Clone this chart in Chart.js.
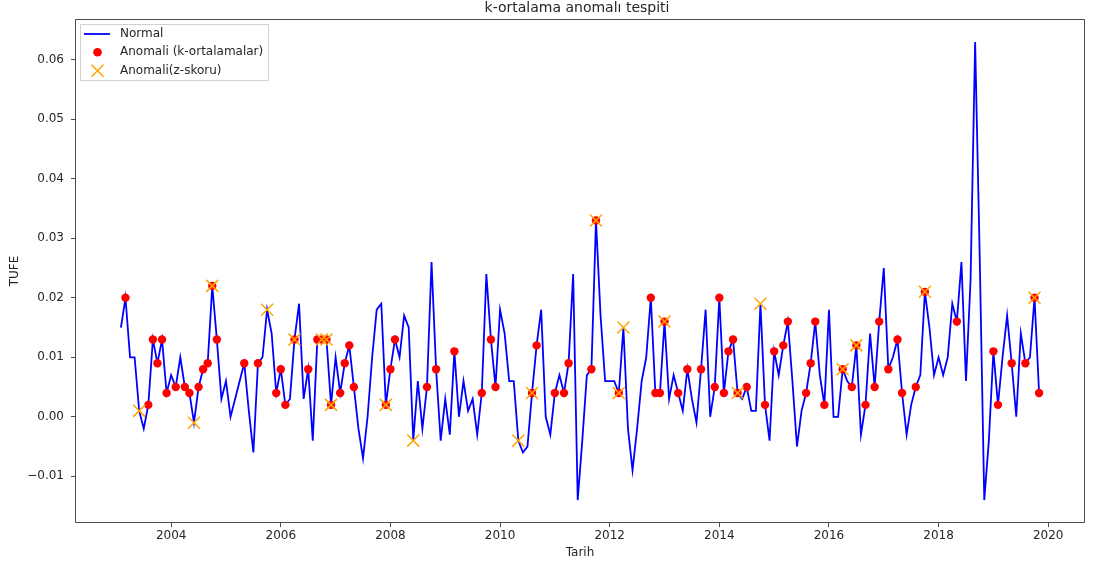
<!DOCTYPE html>
<html>
<head>
<meta charset="utf-8">
<script src="https://cdn.jsdelivr.net/npm/chart.js@4.4.1/dist/chart.umd.min.js"></script>
<style>
  html, body { margin: 0; padding: 0; background: #fff; }
  #wrap { width: 1095px; height: 566px; }
</style>
</head>
<body>
<div id="wrap"><canvas id="c" width="1095" height="566"></canvas></div>
<script>
// Monthly TUFE change, one value per month starting from firstMonth
const firstMonth = { year: 2003, month: 1 };
const tufe = [
  0.015, 0.020, 0.010, 0.010, 0.001, -0.002, 0.002, 0.013, 0.009, 0.013, 0.004, 0.007,
  0.005, 0.010, 0.005, 0.004, -0.001, 0.005, 0.008, 0.009, 0.022, 0.013, 0.003, 0.006,
  0.000, 0.003, 0.006, 0.009, 0.001, -0.006, 0.009, 0.010, 0.018, 0.014, 0.004, 0.008,
  0.002, 0.003, 0.013, 0.019, 0.003, 0.008, -0.004, 0.013, 0.013, 0.013, 0.002, 0.010,
  0.004, 0.009, 0.012, 0.005, -0.002, -0.007, 0.000, 0.010, 0.018, 0.019, 0.002, 0.008,
  0.013, 0.010, 0.017, 0.015, -0.004, 0.006, -0.002, 0.005, 0.026, 0.008, -0.004, 0.003,
  -0.003, 0.011, 0.000, 0.006, 0.001, 0.003, -0.003, 0.004, 0.024, 0.013, 0.005, 0.018,
  0.014, 0.006, 0.006, -0.004, -0.006, -0.005, 0.004, 0.012, 0.018, 0.000, -0.003, 0.004,
  0.007, 0.004, 0.009, 0.024, -0.014, -0.004, 0.007, 0.008, 0.033, 0.017, 0.006, 0.006,
  0.006, 0.004, 0.015, -0.002, -0.009, -0.002, 0.006, 0.010, 0.020, 0.004, 0.004, 0.016,
  0.003, 0.007, 0.004, 0.001, 0.008, 0.003, -0.001, 0.008, 0.018, 0.000, 0.005, 0.020,
  0.004, 0.011, 0.013, 0.004, 0.003, 0.005, 0.001, 0.001, 0.019, 0.002, -0.004, 0.011,
  0.007, 0.012, 0.016, 0.006, -0.005, 0.001, 0.004, 0.009, 0.016, 0.007, 0.002, 0.018,
  0.000, 0.000, 0.008, 0.006, 0.005, 0.012, -0.003, 0.002, 0.014, 0.005, 0.016, 0.025,
  0.008, 0.010, 0.013, 0.004, -0.003, 0.002, 0.005, 0.007, 0.021, 0.015, 0.007, 0.010,
  0.007, 0.010, 0.019, 0.016, 0.026, 0.006, 0.023, 0.063, 0.027, -0.014, -0.004, 0.011,
  0.002, 0.010, 0.017, 0.009, 0.000, 0.014, 0.009, 0.010, 0.020, 0.004
];

// Positions (into tufe) flagged by each detector
const kmeansAnomalyIdx = [
  1, 6, 7, 8, 9, 10, 12, 14, 15, 17, 18, 19, 20, 21, 27, 30, 34, 35, 36, 38, 41,
  43, 44, 45, 46, 48, 49, 50, 51, 58, 59, 60, 67, 69, 73, 79, 81, 82, 90, 91, 95,
  97, 98, 103, 104, 109, 116, 117, 118, 119, 122, 124, 127, 130, 131, 132, 133,
  134, 135, 137, 141, 143, 145, 146, 150, 151, 152, 154, 158, 160, 161, 163, 165,
  166, 168, 170, 171, 174, 176, 183, 191, 192, 195, 198, 200, 201
];
const zscoreAnomalyIdx = [
  4, 16, 20, 32, 38, 44, 45, 46, 58, 64, 87, 90, 104, 109, 110, 119, 135, 140,
  158, 161, 176, 200
];

const xTickYears = [2004, 2006, 2008, 2010, 2012, 2014, 2016, 2018, 2020];
const yTickValues = [-0.01, 0.00, 0.01, 0.02, 0.03, 0.04, 0.05, 0.06];

const titleText = 'k-ortalama anomalı tespiti';
const xTitle = 'Tarih';
const yTitle = 'TUFE';
const legendLabels = ['Normal', 'Anomali (k-ortalamalar)', 'Anomali(z-skoru)'];

const FONT = '"DejaVu Sans", "Liberation Sans", sans-serif';
const LINE_BLUE = '#0000ff';
const DOT_RED = '#ff0000';
const X_ORANGE = '#ffa500';
const TEXT = '#262626';
const SPINE = '#4d4d4d';

// decimal-year position of each month (month end)
const monthPos = tufe.map((_, i) => {
  const m = firstMonth.month - 1 + i;
  return firstMonth.year + Math.floor(m / 12) + ((m % 12) + 1) / 12;
});

const linePts = tufe.map((v, i) => ({ x: monthPos[i], y: v }));
const kmPts = kmeansAnomalyIdx.map(i => ({ x: monthPos[i], y: tufe[i] }));
const zPts = zscoreAnomalyIdx.map(i => ({ x: monthPos[i], y: tufe[i] }));

// 5% autoscale margins on both axes
const xLo = monthPos[0], xHi = monthPos[monthPos.length - 1];
const yLo = Math.min(...tufe), yHi = Math.max(...tufe);
const xPad = (xHi - xLo) * 0.05, yPad = (yHi - yLo) * 0.05;

const frameAndText = {
  id: 'frameAndText',
  afterDraw(chart) {
    const ctx = chart.ctx;
    const a = chart.chartArea;
    const L = Math.round(a.left) + 0.5, R = Math.round(a.right) - 0.5;
    const T = Math.round(a.top) + 0.5, B = Math.round(a.bottom) - 0.5;
    ctx.save();
    ctx.globalAlpha = 1;
    ctx.setLineDash([]);

    // four spines around the plot
    ctx.strokeStyle = SPINE;
    ctx.lineWidth = 1;
    ctx.beginPath();
    ctx.moveTo(L, T); ctx.lineTo(R, T);
    ctx.lineTo(R, B); ctx.lineTo(L, B);
    ctx.closePath();
    ctx.stroke();

    // title and axis titles
    ctx.fillStyle = TEXT;
    ctx.textAlign = 'center';
    ctx.textBaseline = 'middle';
    ctx.font = '14px ' + FONT;
    ctx.fillText(titleText, 577, 8);
    ctx.font = '12px ' + FONT;
    ctx.fillText(xTitle, (a.left + a.right) / 2, 553);
    ctx.save();
    ctx.translate(15, (a.top + a.bottom) / 2);
    ctx.rotate(-Math.PI / 2);
    ctx.fillText(yTitle, 0, 0);
    ctx.restore();

    // legend
    const lx = a.left + 5.5, ly = a.top + 5.5, lw = 188, lh = 56;
    ctx.fillStyle = 'rgba(255,255,255,0.85)';
    ctx.strokeStyle = '#d0d0d0';
    ctx.lineWidth = 1;
    ctx.beginPath();
    ctx.rect(lx, ly, lw, lh);
    ctx.fill();
    ctx.stroke();

    const rows = [a.top + 15, a.top + 33.3, a.top + 51.7];
    const mx = a.left + 22.5;
    ctx.strokeStyle = LINE_BLUE;
    ctx.lineWidth = 1.8;
    ctx.beginPath();
    ctx.moveTo(a.left + 9, rows[0]);
    ctx.lineTo(a.left + 35, rows[0]);
    ctx.stroke();

    ctx.fillStyle = DOT_RED;
    ctx.beginPath();
    ctx.arc(mx, rows[1], 4.3, 0, Math.PI * 2);
    ctx.fill();

    ctx.strokeStyle = X_ORANGE;
    ctx.lineWidth = 1.5;
    ctx.beginPath();
    ctx.moveTo(mx - 6, rows[2] - 6); ctx.lineTo(mx + 6, rows[2] + 6);
    ctx.moveTo(mx - 6, rows[2] + 6); ctx.lineTo(mx + 6, rows[2] - 6);
    ctx.stroke();

    ctx.fillStyle = TEXT;
    ctx.textAlign = 'left';
    ctx.font = '12px ' + FONT;
    legendLabels.forEach((t, k) => ctx.fillText(t, a.left + 45, rows[k]));
    ctx.restore();
  }
};

new Chart(document.getElementById('c'), {
  type: 'line',
  data: {
    datasets: [
      {
        label: legendLabels[0], data: linePts, order: 3,
        borderColor: LINE_BLUE, borderWidth: 1.8, pointRadius: 0, tension: 0,
        fill: false
      },
      {
        label: legendLabels[1], data: kmPts, order: 2, showLine: false,
        pointStyle: 'circle', pointRadius: 4.2, pointBackgroundColor: DOT_RED,
        pointBorderColor: DOT_RED, pointBorderWidth: 0
      },
      {
        label: legendLabels[2], data: zPts, order: 1, showLine: false,
        pointStyle: 'crossRot', pointRadius: 8.5, pointBorderColor: X_ORANGE,
        pointBackgroundColor: X_ORANGE, pointBorderWidth: 1.5
      }
    ]
  },
  options: {
    responsive: false,
    devicePixelRatio: 1,
    animation: false,
    events: [],
    layout: { padding: { top: 19, right: 8, left: 0, bottom: 0 } },
    plugins: { legend: { display: false }, title: { display: false }, tooltip: { enabled: false } },
    scales: {
      x: {
        type: 'linear',
        min: xLo - xPad, max: xHi + xPad,
        afterBuildTicks: s => { s.ticks = xTickYears.map(v => ({ value: v })); },
        afterFit: s => { s.height = 43; },
        grid: { drawOnChartArea: false, drawTicks: true, tickLength: 4, color: SPINE },
        border: { display: false },
        ticks: {
          autoSkip: false, maxRotation: 0, padding: 2, color: TEXT,
          font: { family: FONT, size: 12 },
          callback: v => String(v)
        }
      },
      y: {
        type: 'linear',
        min: yLo - yPad, max: yHi + yPad,
        afterBuildTicks: s => { s.ticks = yTickValues.map(v => ({ value: v })); },
        afterFit: s => { s.width = 75; },
        grid: { drawOnChartArea: false, drawTicks: true, tickLength: 4, color: SPINE },
        border: { display: false },
        ticks: {
          autoSkip: false, padding: 7, color: TEXT,
          font: { family: FONT, size: 12 },
          callback: v => v.toFixed(2).replace('-', '\u2212')
        }
      }
    }
  },
  plugins: [frameAndText]
});
</script>
</body>
</html>
